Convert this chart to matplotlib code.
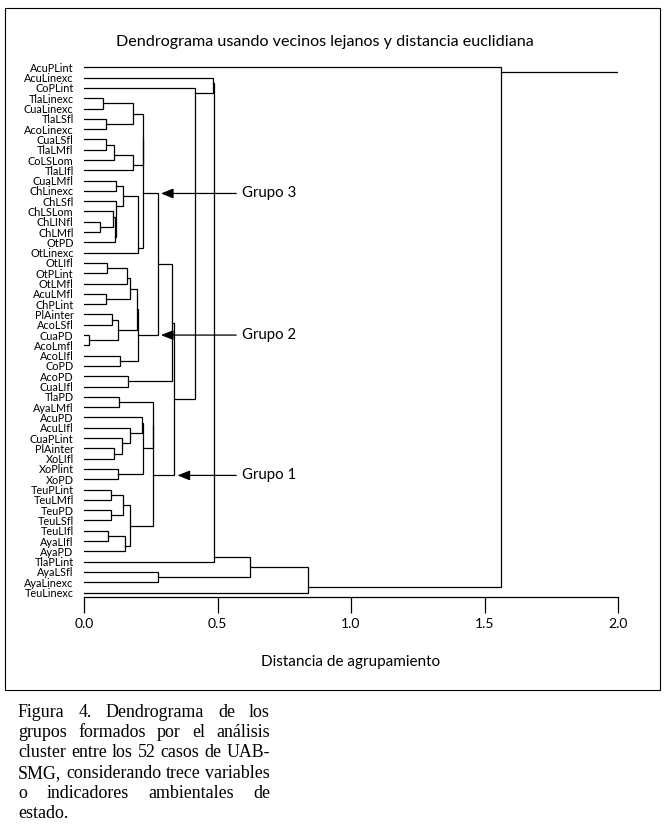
import numpy as np
import matplotlib.pyplot as plt
from matplotlib.patches import Rectangle, ArrowStyle

# Hojas del dendrograma (de arriba hacia abajo)
leaves = [
    "AcuPLint", "AcuLinexc", "CoPLint", "TlaLinexc", "CuaLinexc", "TlaLSfl",
    "AcoLinexc", "CuaLSfl", "TlaLMfl", "CoLSLom", "TlaLIfl", "CuaLMfl",
    "ChLinexc", "ChLSfl", "ChLSLom", "ChLINfl", "ChLMfl", "OtPD", "OtLinexc",
    "OtLIfl", "OtPLint", "OtLMfl", "AcuLMfl", "ChPLint", "PlAinter", "AcoLSfl",
    "CuaPD", "AcoLmfl", "AcoLIfl", "CoPD", "AcoPD", "CuaLIfl", "TlaPD",
    "AyaLMfl", "AcuPD", "AcuLIfl", "CuaPLint", "PlAinter", "XoLIfl", "XoPlint",
    "XoPD", "TeuPLint", "TeuLMfl", "TeuPD", "TeuLSfl", "TeuLIfl", "AyaLIfl",
    "AyaPD", "TlaPLint", "AyaLSfl", "AyaLinexc", "TeuLinexc",
]

# Uniones: el nodo 52+k une merge_left[k] y merge_right[k] a la distancia merge_height[k]
merge_left = [3, 5, 52, 7, 55, 56, 11, 15, 14, 60, 13, 58, 63, 54, 65,
              19, 67, 22, 68, 24, 26, 71, 28, 70, 75, 66, 30, 77,
              32, 37, 36, 35, 34, 39, 84, 80, 41, 43, 88, 45, 91, 90, 87,
              79, 2, 1, 97, 49, 98, 100, 0]
merge_right = [4, 6, 53, 8, 9, 10, 12, 16, 59, 17, 61, 62, 18, 57, 64,
               20, 21, 23, 69, 25, 27, 72, 29, 73, 74, 76, 31, 78,
               33, 38, 81, 82, 83, 40, 85, 86, 42, 44, 89, 46, 47, 92, 93,
               94, 95, 96, 48, 50, 99, 51, 101]
merge_height = [0.072, 0.081, 0.182, 0.081, 0.111, 0.182, 0.121, 0.061, 0.110,
                0.116, 0.121, 0.145, 0.201, 0.220, 0.222,
                0.087, 0.160, 0.081, 0.173, 0.106, 0.020, 0.128, 0.136, 0.200,
                0.203, 0.279, 0.166, 0.331,
                0.131, 0.114, 0.141, 0.172, 0.219, 0.128, 0.221, 0.258, 0.100,
                0.100, 0.145, 0.091, 0.154, 0.172, 0.260,
                0.338, 0.414, 0.485, 0.488, 0.277, 0.622, 0.840, 1.562]

# Grupos señalados con flecha
group_names = ["Grupo 3", "Grupo 2", "Grupo 1"]
group_nodes = [66, 76, 94]
arrow_tips = [0.288, 0.288, 0.35]

x_ticks = [0.0, 0.5, 1.0, 1.5, 2.0]
title = "Dendrograma usando vecinos lejanos y distancia euclidiana"
xlabel = "Distancia de agrupamiento"
caption = [
    "Figura 4. Dendrograma de los",
    "grupos formados por el análisis",
    "cluster entre los 52 casos de UAB-",
    "SMG, considerando trece variables",
    "o indicadores ambientales de",
    "estado.",
]

sans = "Lato"
serif = "Liberation Serif"
lw = 0.9

W, H = 668, 831
fig = plt.figure(figsize=(W / 100, H / 100), dpi=100)
ax = fig.add_axes([84 / W, 1 - 597.3 / H, 534 / W, (597.3 - 60.1) / H])

n = len(leaves)
ypos = {i: float(i) for i in range(n)}
xpos = {i: 0.0 for i in range(n)}

# Dibujar cada union como una horquilla
for k, (a, b, h) in enumerate(zip(merge_left, merge_right, merge_height)):
    ya, yb = ypos[a], ypos[b]
    ax.plot([xpos[a], h, h, xpos[b]], [ya, ya, yb, yb], color="black", lw=lw,
            solid_joinstyle="miter")
    # caso suelto + grupo: la linea sale a media fila del caso
    if a < n <= b:
        y = ya + 0.5 * np.sign(yb - ya)
    elif b < n <= a:
        y = yb + 0.5 * np.sign(ya - yb)
    else:
        y = (ya + yb) / 2
    ypos[n + k] = y
    xpos[n + k] = h

root = n + len(merge_height) - 1
ax.plot([xpos[root], x_ticks[-1]], [ypos[root], ypos[root]], color="black", lw=lw)

ax.set_xlim(0, 2.0)
ax.set_ylim(51.46, -0.7)
for s in ["left", "right", "top"]:
    ax.spines[s].set_visible(False)
ax.spines["bottom"].set_linewidth(lw)
ax.set_xticks(x_ticks, [f"{v:.1f}" for v in x_ticks], fontsize=10, family=sans)
ax.tick_params(axis="x", length=11.3, width=lw, pad=3.5)
ax.set_yticks(range(n), leaves, fontsize=7.8, family=sans)
ax.tick_params(axis="y", length=0, pad=7.5)
ax.set_xlabel(xlabel, fontsize=11, family=sans, labelpad=18)

# Flechas de los grupos
style = ArrowStyle("-|>", head_length=0.5, head_width=0.2)
for name, node, tip in zip(group_names, group_nodes, arrow_tips):
    ax.annotate(name, xy=(tip, ypos[node]), xytext=(0.591, ypos[node]),
                ha="left", va="center", fontsize=10.8, family=sans,
                arrowprops=dict(arrowstyle=style, color="black", lw=lw,
                                shrinkA=2, shrinkB=0, mutation_scale=15))

fig.text(325 / W, 1 - 42 / H, title, ha="center", va="center",
         fontsize=11.6, family=sans)

# Marco
fig.add_artist(Rectangle((5 / W, 1 - 690 / H), 655 / W, 682 / H,
                         transform=fig.transFigure, fill=False, lw=0.8,
                         color="black"))

# Pie de figura justificado; tamaño de letra ajustado a la linea mas larga
renderer = fig.canvas.get_renderer()
x0, x1 = 18 / W, 270 / W
probe = [fig.text(0, 0, line, fontsize=10, family=serif) for line in caption]
longest = max(t.get_window_extent(renderer).width for t in probe)
for t in probe:
    t.remove()
cap_size = 10 * (x1 - x0) * W / longest

for i, line in enumerate(caption):
    y = 1 - (717 + i * 20.2) / H
    words = line.split()
    texts = [fig.text(0, y, w, fontsize=cap_size, family=serif, va="baseline")
             for w in words]
    widths = [t.get_window_extent(renderer).width / fig.bbox.width for t in texts]
    if i < len(caption) - 1 and len(words) > 1:
        gap = (x1 - x0 - sum(widths)) / (len(words) - 1)
    else:
        gap = 4 / W
    x = x0
    for t, w in zip(texts, widths):
        t.set_x(x)
        x += w + gap

fig.savefig("out.png", dpi=100)
